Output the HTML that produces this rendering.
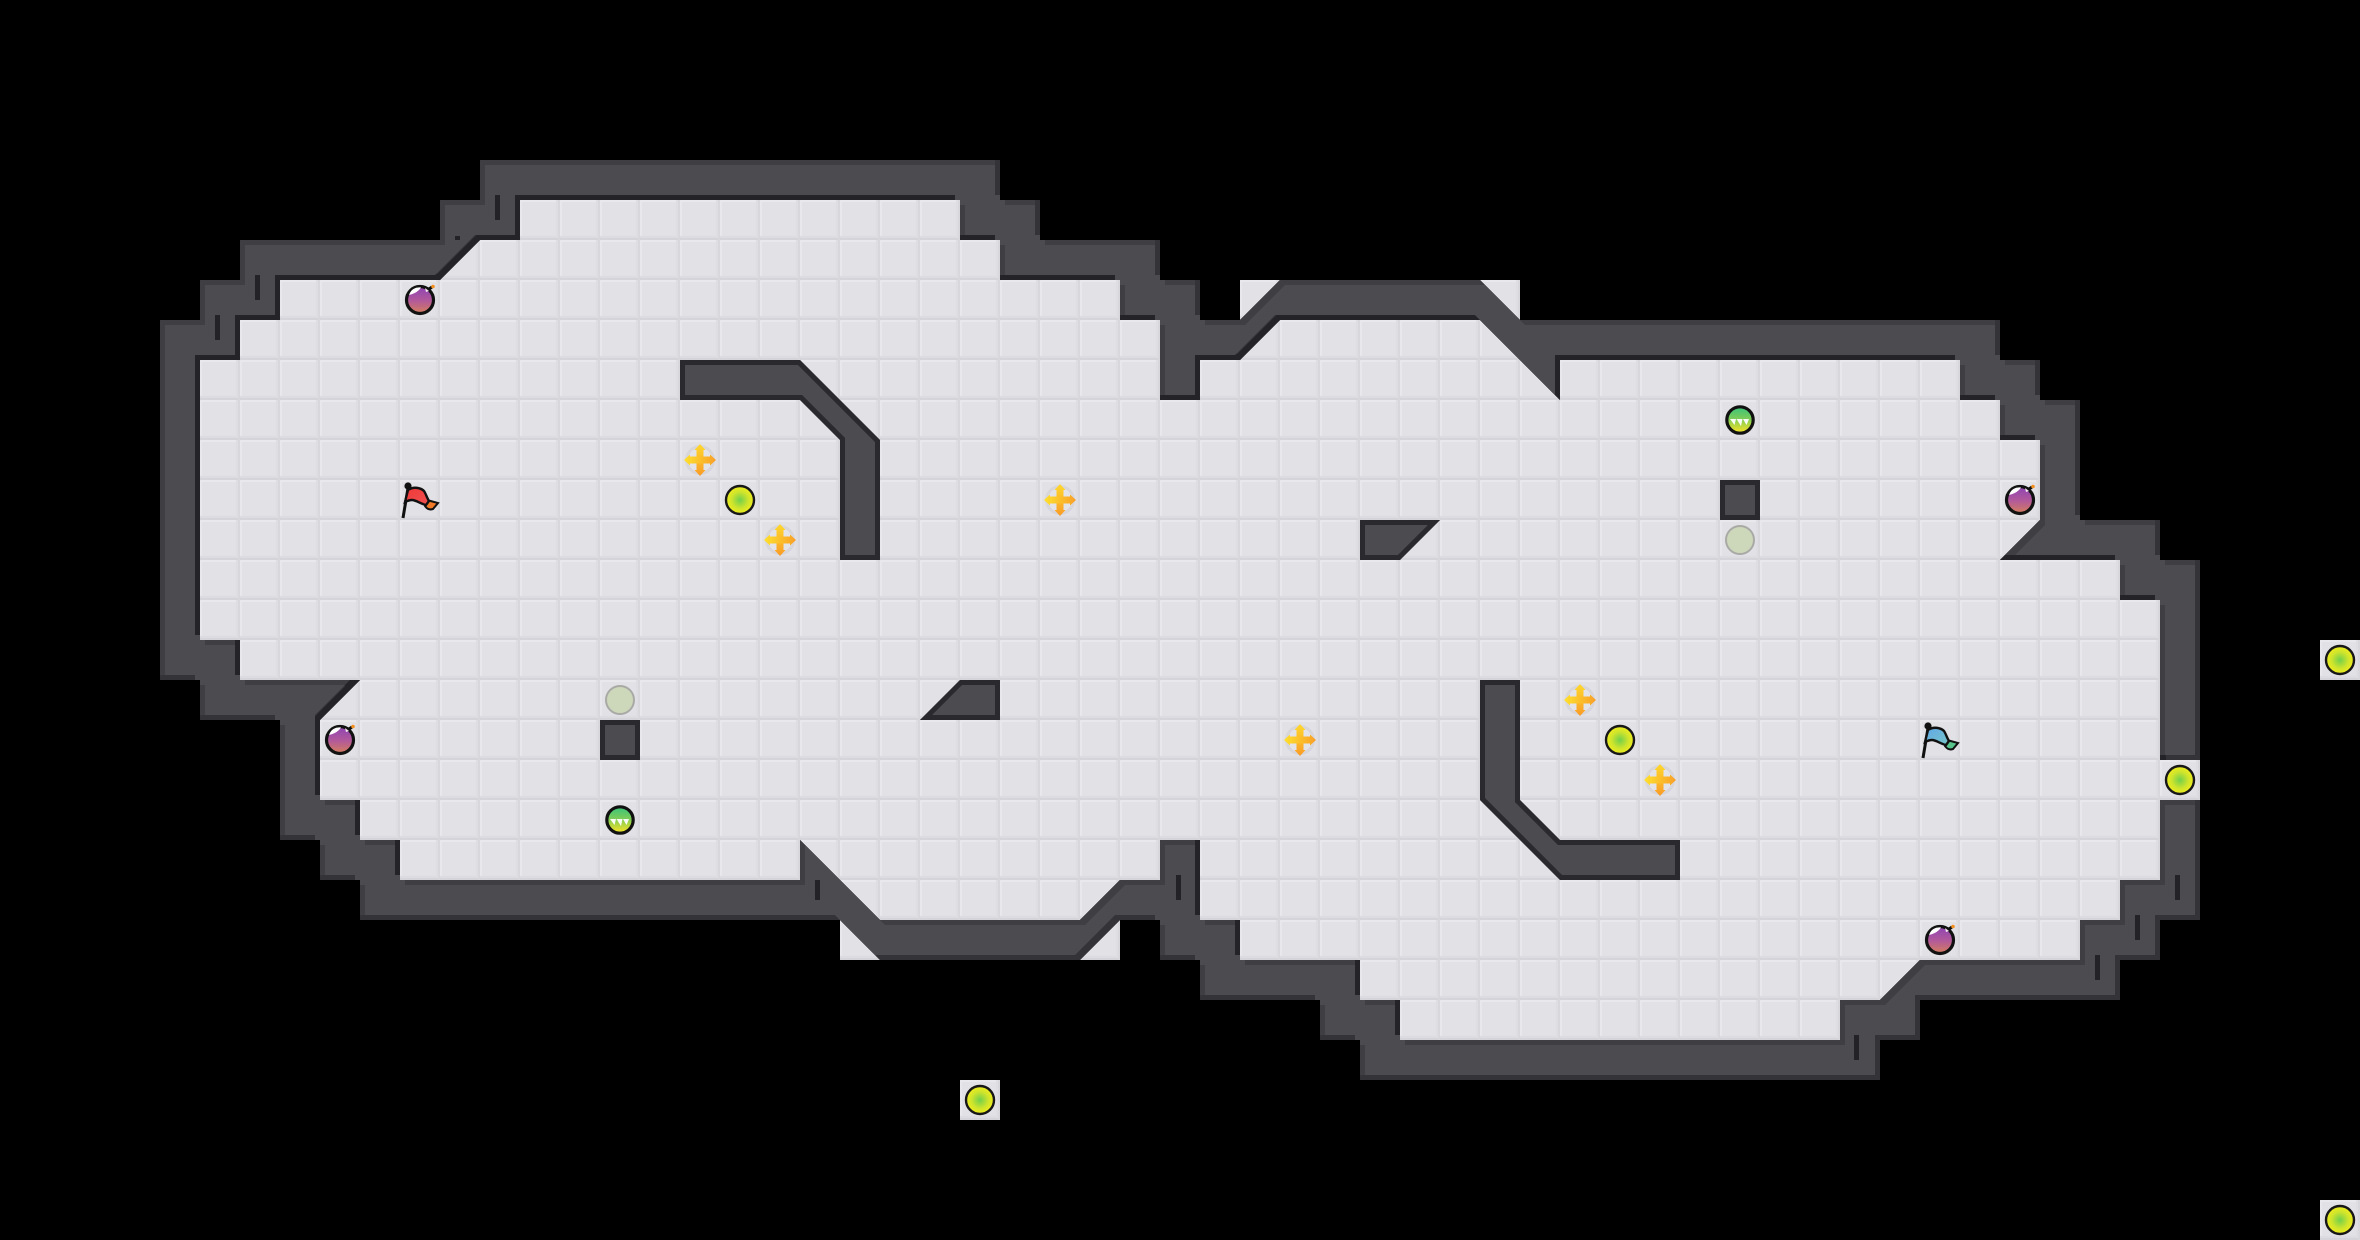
<!DOCTYPE html>
<html><head><meta charset="utf-8"><title>Map</title>
<style>html,body{margin:0;padding:0;background:#000}svg{display:block}</style></head>
<body>
<svg xmlns="http://www.w3.org/2000/svg" width="2360" height="1240" viewBox="0 0 59 31">
<defs>
<pattern id="t" patternUnits="userSpaceOnUse" width="40" height="40" patternTransform="scale(.025)">
<rect width="40" height="40" fill="#e1e1e6"/>
<rect width="40" height="2" fill="#e9e9ed"/>
<rect width="2" height="40" fill="#e8e8ec"/>
<rect y="36" width="40" height="2" fill="#dcdce1"/>
<rect x="36" width="2" height="40" fill="#dedee3"/>
<rect y="38" width="40" height="2" fill="#d4d4da"/>
<rect x="38" width="2" height="40" fill="#d7d7dc"/>
</pattern>
<path id="in" d="M13 5H24V6H25V7H28V8H29V10H30V9H31L32 8H37L39 10V9H49V10H50V11H51V13L50 14H53V15H54V22H53V23H52V24H48L47 25H46V26H35V25H34V24H31V23H30V21H29V22H28L27 23H22L20 21V22H10V21H9V20H8V18L9 17H6V16H5V9H6V8H7V7H11L12 6H13Z"/>
<path id="w" fill-rule="evenodd" clip-rule="evenodd" d="M12 4H25V5H26V6H29V7H30V8H31L32 7H37L38 8H50V9H51V10H52V13H54V14H55V19H54V20H55V23H54V24H53V25H48V26H47V27H34V26H33V25H30V24H29V23H28L27 24H22L21 23H9V22H8V21H7V18H5V17H4V8H5V7H6V6H11V5H12Z M13 5H24V6H25V7H28V8H29V10H30V9H31L32 8H37L39 10V9H49V10H50V11H51V13L50 14H53V15H54V22H53V23H52V24H48L47 25H46V26H35V25H34V24H31V23H30V21H29V22H28L27 23H22L20 21V22H10V21H9V20H8V18L9 17H6V16H5V9H6V8H7V7H11L12 6H13Z"/>
<path id="f" d="M17 9H20L22 11V14H21V11L20 10H17Z M37 17H38V20L39 21H42V22H39L37 20Z M15 18H16V19H15Z M43 12H44V13H43Z M34 13H36L35 14H34Z M25 17H24L23 18H25Z"/>
<clipPath id="c0"><use href="#w"/></clipPath>
<clipPath id="c1"><use href="#w" transform="translate(-.125,-.125)"/></clipPath>
<clipPath id="c2"><use href="#f"/></clipPath>
<radialGradient id="pel"><stop offset="0" stop-color="#72d04c"/><stop offset=".6" stop-color="#cfe42c"/><stop offset="1" stop-color="#f0ee1c"/></radialGradient>
<linearGradient id="bmb" x1="0" y1="0" x2="0" y2="1"><stop offset="0" stop-color="#8e44b4"/><stop offset=".5" stop-color="#b0589c"/><stop offset="1" stop-color="#d67e5c"/></linearGradient>
<linearGradient id="grn" x1="0" y1="0" x2="0" y2="1"><stop offset="0" stop-color="#38c47c"/><stop offset=".45" stop-color="#7ccc58"/><stop offset=".9" stop-color="#e6e02c"/></linearGradient>
<linearGradient id="hg" x1="0" y1="0" x2="1" y2="0"><stop offset="0" stop-color="#ffe02e"/><stop offset="1" stop-color="#f8a028"/></linearGradient>
<linearGradient id="vg" x1="0" y1="0" x2="0" y2="1"><stop offset="0" stop-color="#ffd82e"/><stop offset="1" stop-color="#f89c28"/></linearGradient>
<linearGradient id="rf" x1="0" y1="0" x2="1" y2="1"><stop offset="0" stop-color="#f03838"/><stop offset="1" stop-color="#f05050"/></linearGradient>
<linearGradient id="bf" x1="0" y1="0" x2="1" y2="1"><stop offset="0" stop-color="#5fa8e8"/><stop offset="1" stop-color="#78c4c8"/></linearGradient>
<g id="pellet"><circle r="14" fill="url(#pel)" stroke="#181818" stroke-width="2.4"/></g>
<g id="cross">
<circle r="15" fill="#d4d4d8" opacity=".85"/><circle r="12" fill="#e4e4e8"/>
<path d="M0 -16L5.5 -10H3.5V10H5.5L0 16L-5.5 10H-3.5V-10H-5.5Z" fill="url(#vg)"/>
<path d="M-16 0L-10 -5.5V-3.5H10V-5.5L16 0L10 5.5V3.5H-10V5.5Z" fill="url(#hg)"/>
</g>
<g id="bomb">
<path d="M9 -11L12 -13" stroke="#111" stroke-width="3"/>
<circle r="13.5" fill="url(#bmb)" stroke="#111" stroke-width="3.2"/>
<path d="M-11 -5C-9 -11 -4 -13 1 -12.5C-1 -9 -6 -6 -11 -5Z" fill="#fff"/>
<path d="M5 -12L9 -9L6 -8Z" fill="#f4e8f4"/>
<circle cx="13" cy="-13.5" r="1.8" fill="#f49020"/>
</g>
<g id="speed">
<circle r="13.2" fill="url(#grn)" stroke="#111" stroke-width="3.2"/>
<path d="M-10 -1H-4L-5.5 5Z M-3.5 -1H2.5L1 6Z M3 -1H9L6.5 5Z" fill="#fff" opacity=".95"/>
</g>
<g id="ghost"><circle r="14" fill="#cdd8ba" stroke="#a9a9a6" stroke-width="2"/></g>
<g id="pole">
<path d="M3 38L8 8" stroke="#111" stroke-width="3"/>
<circle cx="8" cy="6" r="3.6" fill="#111"/>
</g>
</defs>

<rect width="59" height="31" fill="#000"/>

<!-- floor -->
<use href="#in" fill="url(#t)"/>
<g fill="url(#t)">
<rect x="54" y="19" width="1" height="1"/>
<rect x="24" y="27" width="1" height="1"/>
<rect x="58" y="16" width="1" height="1"/>
<rect x="58" y="30" width="1" height="1"/>
<path d="M31 7H32L31 8Z M37 7H38V8Z M21 23V24H22Z M27 24H28V23Z"/>
</g>

<!-- outer wall -->
<g clip-path="url(#c0)">
<rect width="59" height="31" fill="#333338"/>
<use href="#in" fill="none" stroke="#232328" stroke-width=".3"/>
<use href="#w" fill="#3e3e43" transform="translate(-.125,-.125)"/>
<g clip-path="url(#c1)"><use href="#w" fill="#4b4b50" transform="translate(.125,.125)"/></g>
</g>

<!-- free walls -->
<use href="#f" fill="#4b4b50"/>
<g clip-path="url(#c2)"><use href="#f" fill="none" stroke="#29292e" stroke-width=".25"/></g>

<g transform="scale(.025)">
<!-- stair marks -->
<g fill="#222227">
<rect x="215" y="315" width="5" height="25"/>
<rect x="255" y="275" width="5" height="25"/>
<rect x="495" y="195" width="5" height="25"/>
<rect x="455" y="236" width="5" height="4"/>
<rect x="815" y="880" width="5" height="20"/>
<rect x="1176" y="875" width="5" height="25"/>
<rect x="1854" y="1035" width="5" height="25"/>
<rect x="2095" y="955" width="5" height="25"/>
<rect x="2135" y="915" width="5" height="25"/>
<rect x="2175" y="875" width="5" height="25"/>
</g>

<use href="#pellet" x="740" y="500"/>
<use href="#pellet" x="1620" y="740"/>
<use href="#pellet" x="2180" y="780"/>
<use href="#pellet" x="980" y="1100"/>
<use href="#pellet" x="2340" y="660"/>
<use href="#pellet" x="2340" y="1220"/>

<use href="#cross" x="700" y="460"/>
<use href="#cross" x="780" y="540"/>
<use href="#cross" x="1060" y="500"/>
<use href="#cross" x="1300" y="740"/>
<use href="#cross" x="1580" y="700"/>
<use href="#cross" x="1660" y="780"/>

<use href="#bomb" x="420" y="300"/>
<use href="#bomb" x="340" y="740"/>
<use href="#bomb" x="2020" y="500"/>
<use href="#bomb" x="1940" y="940"/>

<use href="#speed" x="620" y="820"/>
<use href="#speed" x="1740" y="420"/>

<use href="#ghost" x="620" y="700"/>
<use href="#ghost" x="1740" y="540"/>

<!-- red flag -->
<g transform="translate(400,480)">
<use href="#pole"/>
<path d="M27 20L38 23L33 29C30 30 27 29 25 26Z" fill="#f07a28" stroke="#111" stroke-width="2"/>
<path d="M8 10C14 6 21 8 24 11C26 14 27 18 29 21L26 25C21 24 16 20 12 20C9 20 7 21 5 22Z" fill="url(#rf)" stroke="#111" stroke-width="2.4"/>
</g>
<!-- blue flag -->
<g transform="translate(1920,720)">
<use href="#pole"/>
<path d="M27 20L38 23L33 29C30 30 27 29 25 26Z" fill="#58c48c" stroke="#111" stroke-width="2"/>
<path d="M8 10C14 6 21 8 24 11C26 14 27 18 29 21L26 25C21 24 16 20 12 20C9 20 7 21 5 22Z" fill="url(#bf)" stroke="#111" stroke-width="2.4"/>
</g>
</g>
</svg>
</body></html>
